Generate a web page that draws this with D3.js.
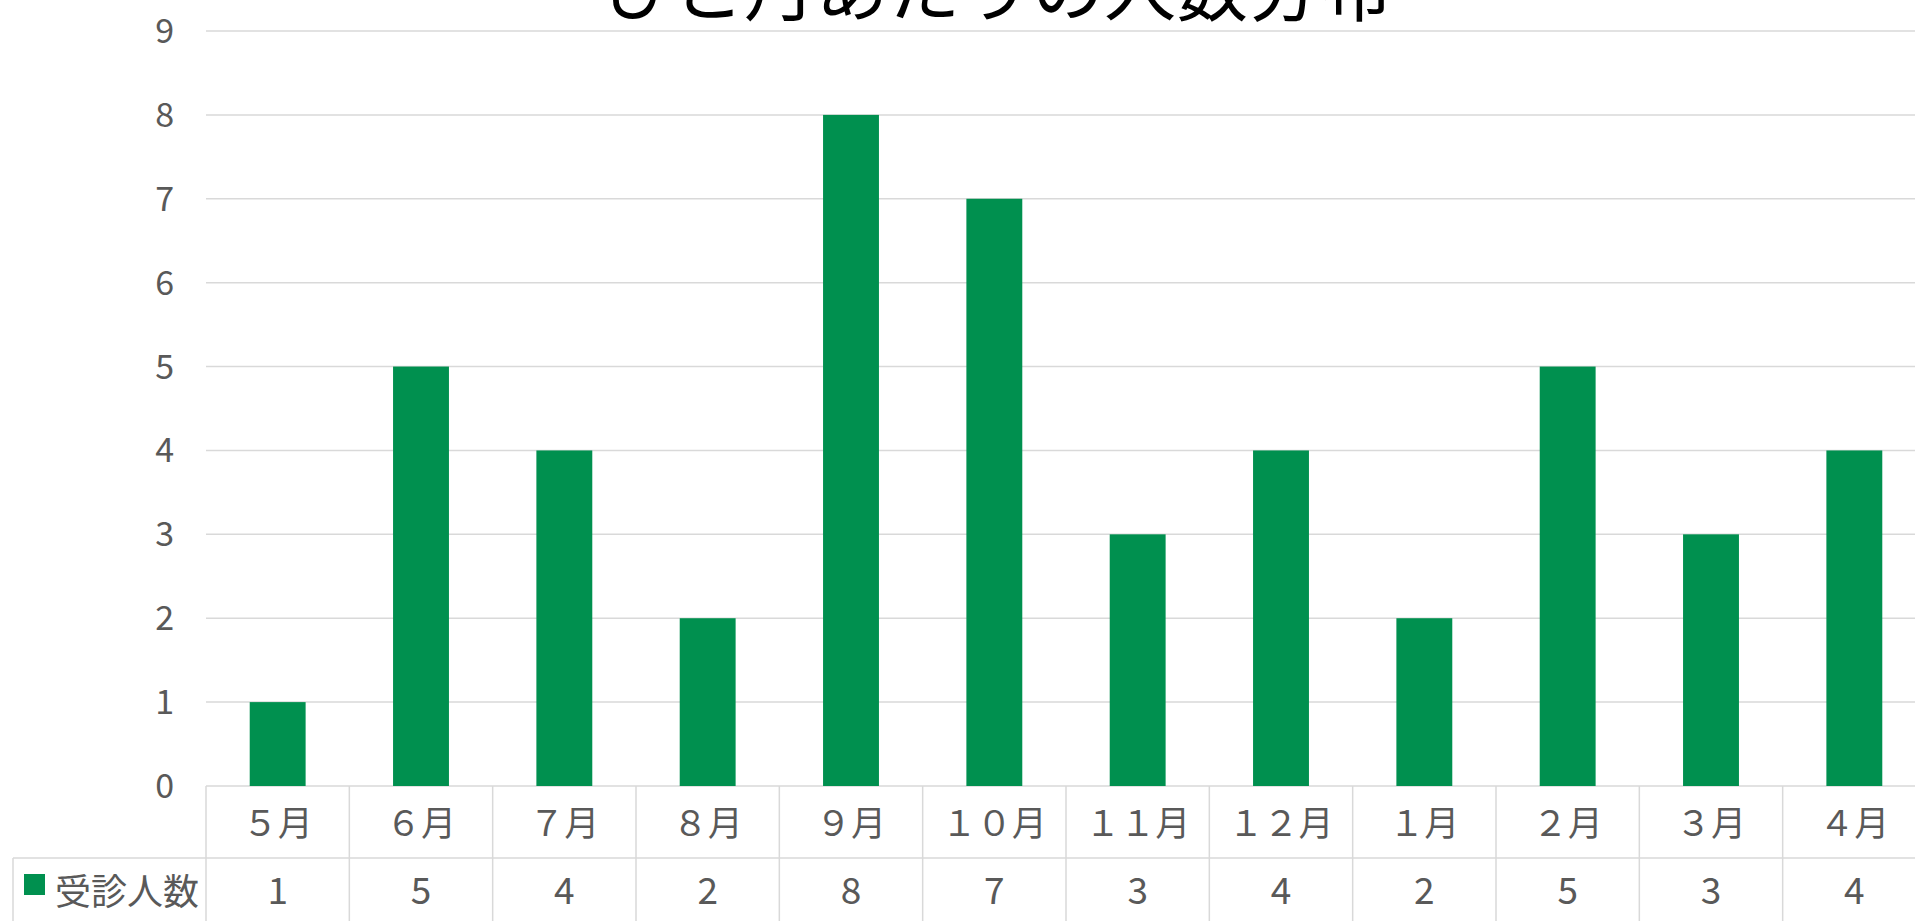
<!DOCTYPE html>
<html>
<head>
<meta charset="utf-8">
<script src="https://cdn.jsdelivr.net/npm/d3@7"></script>
<style>
  html, body { margin: 0; padding: 0; background: #fff; overflow: hidden; }
  svg { display: block; }
  text { font-family: "Noto Sans CJK JP", "Noto Sans", sans-serif; fill: #595959; }
</style>
</head>
<body>
<svg id="chart" width="1915" height="921"></svg>
<script>
// chart data
var title = "ひと月あたりの人数分布";
var seriesName = "受診人数";
var months = ["５月", "６月", "７月", "８月", "９月", "１０月", "１１月", "１２月", "１月", "２月", "３月", "４月"];
var patients = [1, 5, 4, 2, 8, 7, 3, 4, 2, 5, 3, 4];
var yTicks = [0, 1, 2, 3, 4, 5, 6, 7, 8, 9];

(function () {

var svg = d3.select('#chart');
var green = '#00904f';
var grid = '#d9d9d9';

var left = 206, right = 1926, top = 31, base = 786;
var rowMid = 858, tableLeft = 13;

var x = d3.scaleBand().domain(months).range([left, right]).padding(0);
var y = d3.scaleLinear().domain([0, 9]).range([base, top]);
var barW = x.bandwidth() * 0.39;

// horizontal gridlines
svg.selectAll('.grid').data(yTicks).enter().append('line')
	.attr('class', 'grid')
	.attr('x1', left).attr('x2', right)
	.attr('y1', function (d) { return y(d); })
	.attr('y2', function (d) { return y(d); })
	.attr('stroke', grid).attr('stroke-width', 1.5);

// y labels
svg.selectAll('.ylab').data(yTicks).enter().append('text')
	.attr('class', 'ylab')
	.attr('x', 174)
	.attr('y', function (d) { return y(d) + 12; })
	.attr('text-anchor', 'end')
	.attr('font-size', 34)
	.text(function (d) { return d; });

// bars
svg.selectAll('.bar').data(patients).enter().append('rect')
	.attr('class', 'bar')
	.attr('x', function (d, i) { return x(months[i]) + (x.bandwidth() - barW) / 2; })
	.attr('width', barW)
	.attr('y', function (d) { return y(d); })
	.attr('height', function (d) { return y(0) - y(d); })
	.attr('fill', green);

// data table lines
svg.append('line').attr('x1', tableLeft).attr('x2', right)
	.attr('y1', rowMid).attr('y2', rowMid)
	.attr('stroke', grid).attr('stroke-width', 1.5);
svg.append('line').attr('x1', tableLeft).attr('x2', tableLeft)
	.attr('y1', rowMid).attr('y2', 921)
	.attr('stroke', grid).attr('stroke-width', 1.5);
var cols = months.map(function (m) { return x(m); }).concat([right]);
svg.selectAll('.col').data(cols).enter().append('line')
	.attr('class', 'col')
	.attr('x1', function (d) { return d; }).attr('x2', function (d) { return d; })
	.attr('y1', base).attr('y2', 921)
	.attr('stroke', grid).attr('stroke-width', 1.5);

// month labels
svg.selectAll('.mlab').data(months).enter().append('text')
	.attr('class', 'mlab')
	.attr('x', function (d) { return x(d) + x.bandwidth() / 2; })
	.attr('y', 836)
	.attr('text-anchor', 'middle')
	.attr('font-size', 35)
	.text(function (d) { return d; });

// value labels
svg.selectAll('.vlab').data(patients).enter().append('text')
	.attr('class', 'vlab')
	.attr('x', function (d, i) { return x(months[i]) + x.bandwidth() / 2; })
	.attr('y', 904)
	.attr('text-anchor', 'middle')
	.attr('font-size', 37)
	.text(function (d) { return d; });

// legend key
svg.append('rect').attr('x', 24).attr('y', 874).attr('width', 21).attr('height', 21).attr('fill', green);
svg.append('text').attr('x', 55).attr('y', 905).attr('font-size', 36).text(seriesName);

// title (cut off at top)
svg.append('text').attr('x', 997).attr('y', 15)
	.attr('text-anchor', 'middle')
	.attr('font-size', 72)
	.style('fill', '#000')
	.text(title);

})();
</script>
</body>
</html>
